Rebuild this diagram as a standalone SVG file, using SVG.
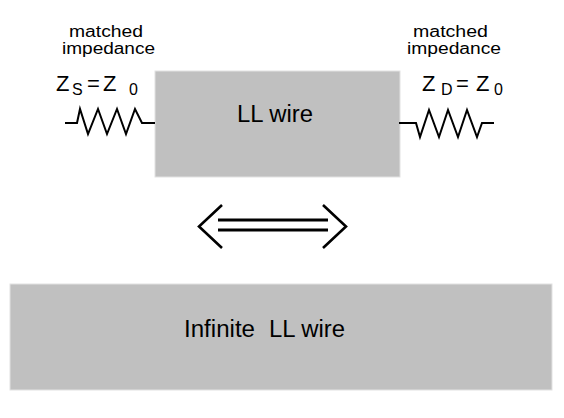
<svg xmlns="http://www.w3.org/2000/svg" width="564" height="418" viewBox="0 0 564 418">
<style>
text{font-family:"Liberation Sans",Arial,sans-serif;fill:#000}
.lbl{font-size:16px}
.z{font-size:22px}
.sub{font-size:16px}
.wire{font-size:23px}
.box{fill:#c0c0c0;stroke:#e2e2e2;stroke-width:1}
.res{fill:none;stroke:#000;stroke-width:2;stroke-linejoin:miter}
.arr{fill:none;stroke:#000;stroke-width:2.6}
</style>
<rect width="564" height="418" fill="#fff"/>
<g id="wire">
<rect class="box" x="155" y="71" width="245" height="106"/>
<text class="wire" x="237" y="122" textLength="76" lengthAdjust="spacingAndGlyphs">LL wire</text>
</g>
<g id="infinite-wire">
<rect class="box" x="10" y="284" width="542" height="106"/>
<text class="wire" y="337"><tspan x="184" textLength="71" lengthAdjust="spacingAndGlyphs">Infinite</tspan><tspan x="269" textLength="76" lengthAdjust="spacingAndGlyphs">LL wire</tspan></text>
</g>
<g id="source-impedance">
<text class="lbl" x="69" y="37" textLength="74" lengthAdjust="spacingAndGlyphs">matched</text>
<text class="lbl" x="62" y="54" textLength="93" lengthAdjust="spacingAndGlyphs">impedance</text>
<text class="z" x="56" y="91">Z</text>
<text class="sub" x="72" y="95">S</text>
<text class="z" x="87" y="91">=</text>
<text class="z" x="103" y="91">Z</text>
<text class="sub" x="129" y="95">0</text>
<polyline class="res" points="65,123 77,123 80,109 88,134 98,109 107,134 117,109 126,134 135,109 142,123 155,123"/>
</g>
<g id="load-impedance">
<text class="lbl" x="413" y="37" textLength="75" lengthAdjust="spacingAndGlyphs">matched</text>
<text class="lbl" x="407" y="54" textLength="94" lengthAdjust="spacingAndGlyphs">impedance</text>
<text class="z" x="422" y="91">Z</text>
<text class="sub" x="441" y="95">D</text>
<text class="z" x="456" y="91">=</text>
<text class="z" x="476" y="91">Z</text>
<text class="sub" x="494" y="95">0</text>
<polyline class="res" points="399,123 416,123 420,137 429,110 439,137 448,110 458,137 467,110 477,137 482,123 494,123"/>
</g>
<g id="connectors">
<polyline class="arr" points="222,205 199,226.5 222,248"/>
<polyline class="arr" points="323,205 346,226.5 323,248"/>
<line x1="218" y1="220" x2="328" y2="220" stroke="#000" stroke-width="3.2"/>
<line x1="218" y1="230" x2="328" y2="230" stroke="#000" stroke-width="3.2"/>
</g>
</svg>
